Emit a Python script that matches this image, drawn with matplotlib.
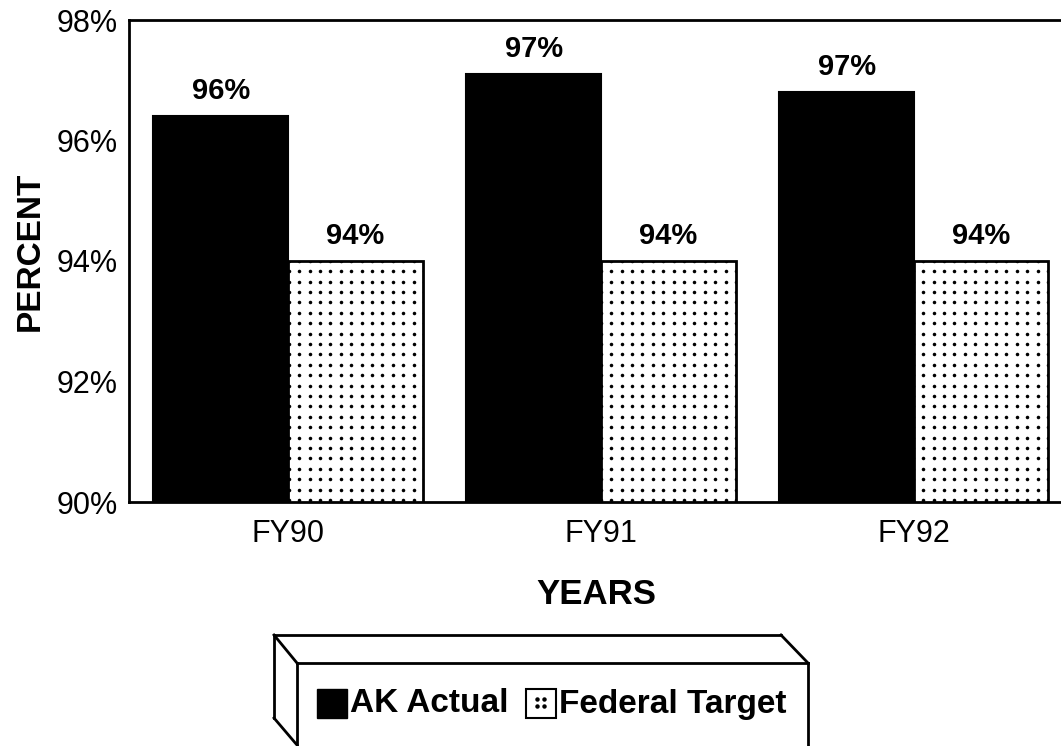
import numpy as np
import matplotlib
matplotlib.use("Agg")
import matplotlib.pyplot as plt
from matplotlib.patches import Rectangle
from matplotlib.lines import Line2D

# ---- data ----
years = ["FY90", "FY91", "FY92"]
ak_actual = [96.4, 97.1, 96.8]
federal_target = [94.0, 94.0, 94.0]
ak_labels = ["96%", "97%", "97%"]
fed_labels = ["94%", "94%", "94%"]
yticks = [90, 92, 94, 96, 98]
ytick_labels = ["90%", "92%", "94%", "96%", "98%"]
series_names = ["AK Actual", "Federal Target"]

plt.rcParams['font.family'] = ['Liberation Sans', 'DejaVu Sans']

W, H = 1061, 746
fig = plt.figure(figsize=(W / 100, H / 100), dpi=100)
fig.patch.set_facecolor('white')

def fx(px):
    return px / W

def fy(py):
    return 1 - py / H

ax_left, ax_top, ax_bottom, ax_right = 129, 20, 502, 1061
ax = fig.add_axes([fx(ax_left), fy(ax_bottom), fx(ax_right - ax_left), (ax_bottom - ax_top) / H])

x = np.arange(len(years))
width = 0.43
b1 = ax.bar(x - width / 2, ak_actual, width, color='black', edgecolor='black', linewidth=1.5, zorder=2)
b2 = ax.bar(x + width / 2, federal_target, width, color='white', edgecolor='black', linewidth=2, zorder=2)

ax.set_ylim(90, 98)
ax.set_xlim(-0.508, 2.47)

# dot texture for target bars (regular grid, axes coords)
sx = 10.4 / (ax_right - ax_left)
sy = 10.4 / (ax_bottom - ax_top)
gx = np.arange(0.0, 1.0, sx) + 0.004
gy = np.arange(0.0, 1.0, sy) + 0.004
GX, GY = np.meshgrid(gx, gy)
for patch in b2.patches:
    sc = ax.scatter(GX.ravel(), GY.ravel(), s=6.5, c='black', marker='o', linewidths=0,
                    transform=ax.transAxes, zorder=3)
    sc.set_clip_path(patch)

ax.bar_label(b1, labels=ak_labels, padding=8, fontsize=21, fontweight='bold')
ax.bar_label(b2, labels=fed_labels, padding=8, fontsize=21, fontweight='bold')

ax.set_yticks(yticks)
ax.set_yticklabels(ytick_labels, fontsize=22)
ax.set_xticks(x)
ax.set_xticklabels(years, fontsize=22)
ax.tick_params(axis='both', length=0)
ax.tick_params(axis='y', pad=8)
ax.tick_params(axis='x', pad=12)

for s in ['left', 'bottom', 'top']:
    ax.spines[s].set_linewidth(2)
ax.spines['right'].set_visible(False)

ax.set_ylabel("PERCENT", fontsize=24, fontweight='bold')
ax.yaxis.set_label_coords((30 - ax_left) / (ax_right - ax_left), (ax_bottom - 251) / (ax_bottom - ax_top))
ax.yaxis.label.set_va('center')
ax.set_xlabel("YEARS", fontsize=25, fontweight='bold')
ax.xaxis.set_label_coords((596 - ax_left) / (ax_right - ax_left), (ax_bottom - 595) / (ax_bottom - ax_top))
ax.xaxis.label.set_va('center')

# ---- 3D legend box ----
def fline(p, q):
    fig.add_artist(Line2D([fx(p[0]), fx(q[0])], [fy(p[1]), fy(q[1])], color='black', linewidth=2,
                          transform=fig.transFigure))

A = (274, 635); B = (781, 635); C = (297, 663); D = (808, 663)
E = (274, 718); F = (297, 745)
fline(A, B); fline(A, C); fline(B, D); fline(C, D)
fline(C, (297, 746)); fline(D, (808, 746)); fline(A, E); fline(E, F)

# legend swatches
fig.add_artist(Rectangle((fx(317), fy(718)), fx(30), 29 / H, facecolor='black', edgecolor='black',
                         transform=fig.transFigure))
fed_sw = Rectangle((fx(526), fy(718)), fx(30), 29 / H, facecolor='white', edgecolor='black',
                   linewidth=1.5, transform=fig.transFigure)
fig.add_artist(fed_sw)
lx = np.array([534, 541, 548])
ly = np.array([699, 706, 713])
LX, LY = np.meshgrid(lx[:2] + 3, ly[:2])
fig.add_artist(Line2D(fx(LX.ravel()), fy(LY.ravel()), linestyle='none', marker='o', markersize=2.2,
                      color='black', transform=fig.transFigure))

fig.text(fx(350), fy(704), series_names[0], fontsize=24, fontweight='bold', ha='left', va='center')
fig.text(fx(559), fy(704), series_names[1], fontsize=24, fontweight='bold', ha='left', va='center')

fig.savefig("out.png", dpi=100, facecolor='white')
